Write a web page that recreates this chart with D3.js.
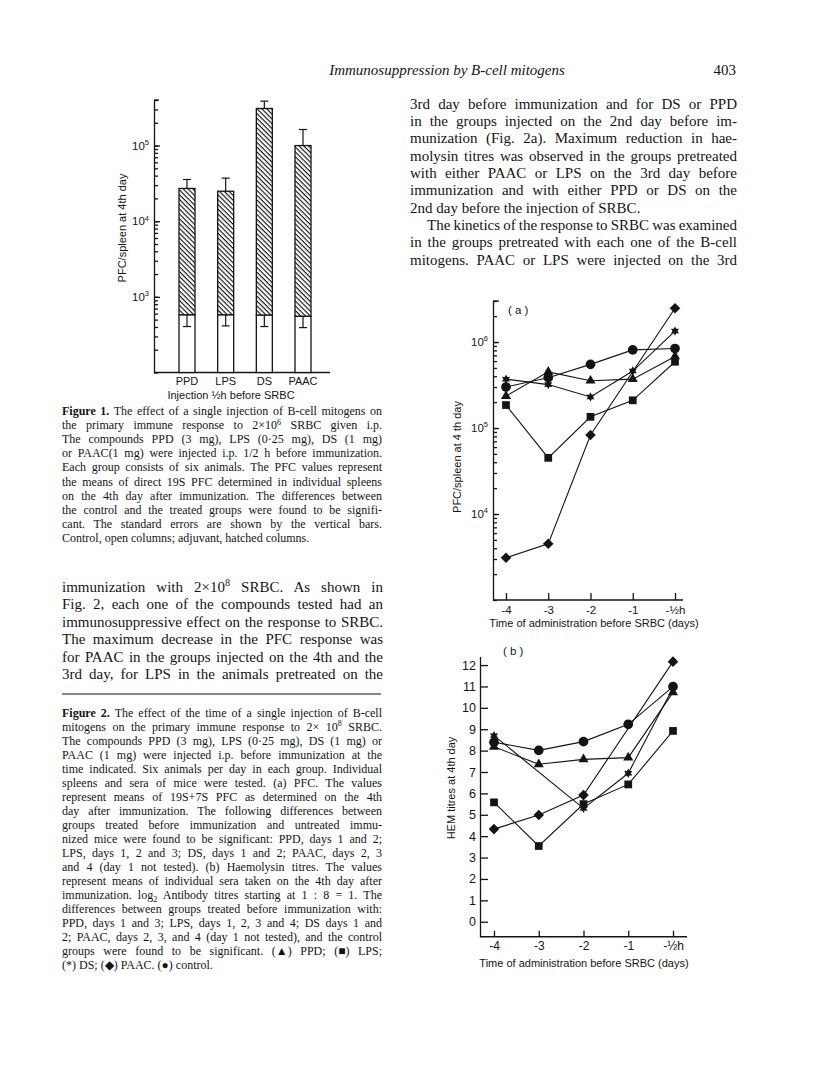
<!DOCTYPE html>
<html><head><meta charset="utf-8">
<script src="https://cdn.jsdelivr.net/npm/d3@7"></script>
<style>
html,body{margin:0;padding:0;background:#fff;}
svg{display:block;}
</style></head><body>
<svg id="page" width="816" height="1085"></svg>
<script>
// ---------------- DATA ----------------
// Figure 1 (log scale, PFC/spleen)
const fig1Categories = ["PPD", "LPS", "DS", "PAAC"];
const fig1ControlMeans = [580, 580, 575, 555];
const fig1ControlLower = [405, 413, 405, 392];
const fig1AdjuvantMeans = [27100, 24900, 309000, 100000];
const fig1AdjuvantUpper = [35600, 37100, 386000, 163000];
const fig1DecadeTicks = [1e3, 1e4, 1e5];

// Figure 2 x categories
const fig2Times = ["-4", "-3", "-2", "-1", "-½h"];

// Figure 2a: PFC/spleen (log)
const fig2aPPD     = [235000, 450000, 355000, 370000, 680000];
const fig2aLPS     = [185000, 45000, 135000, 210000, 590000];
const fig2aDS      = [370000, 320000, 230000, 460000, 1340000];
const fig2aPAAC    = [3100, 4500, 83000, null, 2470000];
const fig2aControl = [300000, 385000, 550000, 810000, 840000];
const fig2aDecadeTicks = [1e4, 1e5, 1e6];

// Figure 2b: HEM titres
const fig2bPPD     = [8.18, 7.36, 7.59, 7.67, 10.72];
const fig2bLPS     = [5.58, 3.54, 5.5, 6.42, 8.92];
const fig2bDS      = [8.7, null, 5.3, 6.94, 10.94];
const fig2bPAAC    = [4.33, 4.99, 5.92, null, 12.16];
const fig2bControl = [8.39, 8.01, 8.42, 9.23, 10.99];
const fig2bTicks = [0,1,2,3,4,5,6,7,8,9,10,11,12];

// Text
const headerTitle = "Immunosuppression by B-cell mitogens";
const pageNumber = "403";
const rightColumnLines = [
  "3rd day before immunization and for DS or PPD",
  "in the groups injected on the 2nd day before im-",
  "munization (Fig. 2a). Maximum reduction in hae-",
  "molysin titres was observed in the groups pretreated",
  "with either PAAC or LPS on the 3rd day before",
  "immunization and with either PPD or DS on the",
  "2nd day before the injection of SRBC.",
  "The kinetics of the response to SRBC was examined",
  "in the groups pretreated with each one of the B-cell",
  "mitogens. PAAC or LPS were injected on the 3rd"
];
const fig1CaptionLines = [
  "**Figure 1.** The effect of a single injection of B-cell mitogens on",
  "the primary immune response to 2×10^{6} SRBC given i.p.",
  "The compounds PPD (3 mg), LPS (0·25 mg), DS (1 mg)",
  "or PAAC(1 mg) were injected i.p. 1/2 h before immunization.",
  "Each group consists of six animals. The PFC values represent",
  "the means of direct 19S PFC determined in individual spleens",
  "on the 4th day after immunization. The differences between",
  "the control and the treated groups were found to be signifi-",
  "cant. The standard errors are shown by the vertical bars.",
  "Control, open columns; adjuvant, hatched columns."
];
const leftBodyLines = [
  "immunization with 2×10^{8} SRBC. As shown in",
  "Fig. 2, each one of the compounds tested had an",
  "immunosuppressive effect on the response to SRBC.",
  "The maximum decrease in the PFC response was",
  "for PAAC in the groups injected on the 4th and the",
  "3rd day, for LPS in the animals pretreated on the"
];
const fig2CaptionLines = [
  "**Figure 2.** The effect of the time of a single injection of B-cell",
  "mitogens on the primary immune response to 2× 10^{8} SRBC.",
  "The compounds PPD (3 mg), LPS (0·25 mg), DS (1 mg) or",
  "PAAC (1 mg) were injected i.p. before immunization at the",
  "time indicated. Six animals per day in each group. Individual",
  "spleens and sera of mice were tested. (a) PFC. The values",
  "represent means of 19S+7S PFC as determined on the 4th",
  "day after immunization. The following differences between",
  "groups treated before immunization and untreated immu-",
  "nized mice were found to be significant: PPD, days 1 and 2;",
  "LPS, days 1, 2 and 3; DS, days 1 and 2; PAAC, days 2, 3",
  "and 4 (day 1 not tested). (b) Haemolysin titres. The values",
  "represent means of individual sera taken on the 4th day after",
  "immunization. log_{2} Antibody titres starting at 1 : 8 = 1. The",
  "differences between groups treated before immunization with:",
  "PPD, days 1 and 3; LPS, days 1, 2, 3 and 4; DS days 1 and",
  "2; PAAC, days 2, 3, and 4 (day 1 not tested), and the control",
  "groups were found to be significant. (▲) PPD; (■) LPS;",
  "(*) DS; (◆) PAAC. (●) control."
];

// ---------------- SETUP ----------------
const INK = "#141414";
const SERIF = "'Liberation Serif','Times New Roman',serif";
const SANS = "'Liberation Sans','DejaVu Sans',Arial,sans-serif";
const svg = d3.select("#page");
svg.append("rect").attr("width", 816).attr("height", 1085).attr("fill", "#fff");

// ---------------- TEXT HELPERS ----------------
function parseSegs(s) {
  const re = /(\*\*[^*]+\*\*|\^\{[^}]*\}|_\{[^}]*\})/g;
  return s.split(re).filter(p => p !== "").map(p => {
    if (p.startsWith("**")) return {t: p.slice(2, -2), k: "b"};
    if (p.startsWith("^{")) return {t: p.slice(2, -1), k: "sup"};
    if (p.startsWith("_{")) return {t: p.slice(2, -1), k: "sub"};
    return {t: p, k: "n"};
  });
}
function drawBlock(lines, o) {
  const g = svg.append("g").attr("font-family", o.family).attr("font-size", o.size).attr("fill", INK);
  lines.forEach((line, i) => {
    const indent = (o.indents && o.indents[i]) || 0;
    const x = o.x0 + indent;
    const t = g.append("text").attr("x", x).attr("y", o.y0 + i * o.lh);
    if (o.italic) t.attr("font-style", "italic");
    if (o.anchor) t.attr("text-anchor", o.anchor);
    let shift = 0;
    const segs = parseSegs(line);
    segs.forEach(seg => {
      const target = seg.k === "sup" ? -o.size * 0.38 : seg.k === "sub" ? o.size * 0.22 : 0;
      const ts = t.append("tspan").text(seg.t);
      if (target !== shift) ts.attr("dy", target - shift);
      shift = target;
      if (seg.k === "b") ts.attr("font-weight", "bold");
      if (seg.k === "sup" || seg.k === "sub") ts.attr("font-size", o.size * 0.68);
    });
    const lastFree = o.justifyLast ? false : i === lines.length - 1;
    const justify = o.justify && !lastFree && !(o.noJustify && o.noJustify.includes(i));
    if (justify) {
      const targetW = o.x1 - x;
      const w = t.node().getComputedTextLength();
      const plain = segs.map(s => s.t).join("");
      const n = (plain.match(/ /g) || []).length;
      if (n > 0) {
        t.style("word-spacing", ((targetW - w) / n) + "px");
        const w2 = t.node().getComputedTextLength();
        if (Math.abs(w2 - targetW) > 2) {
          t.style("word-spacing", null);
          t.attr("textLength", targetW).attr("lengthAdjust", "spacing");
        }
      }
    }
  });
}
function supLabel(g, x, y, base, exp, size, anchor) {
  const t = g.append("text").attr("x", x).attr("y", y).attr("font-family", SANS)
    .attr("font-size", size).attr("fill", INK).attr("text-anchor", anchor || "end");
  t.append("tspan").text(base);
  t.append("tspan").attr("dy", -size * 0.4).attr("font-size", size * 0.65).text(exp);
  return t;
}

// ---------------- PAGE TEXT ----------------
drawBlock([headerTitle], {x0: 447, y0: 75, lh: 0, size: 15, family: SERIF, italic: true, anchor: "middle"});
drawBlock([pageNumber], {x0: 736, y0: 75, lh: 0, size: 15, family: SERIF, anchor: "end"});

drawBlock(rightColumnLines, {x0: 410, x1: 737, y0: 108.5, lh: 17.35, size: 15, family: SERIF,
  justify: true, indents: {7: 17}, noJustify: [6], justifyLast: true});
drawBlock(fig1CaptionLines, {x0: 62, x1: 382, y0: 415, lh: 14.1, size: 12, family: SERIF, justify: true});
drawBlock(leftBodyLines, {x0: 62, x1: 383, y0: 591.5, lh: 17.5, size: 15, family: SERIF, justify: true, justifyLast: true});
drawBlock(fig2CaptionLines, {x0: 62, x1: 382, y0: 716.5, lh: 14.05, size: 12, family: SERIF, justify: true});
svg.append("line").attr("x1", 62).attr("x2", 381).attr("y1", 694).attr("y2", 694)
  .attr("stroke", INK).attr("stroke-width", 1);

// ---------------- FIGURE 1 ----------------
{
  const g = svg.append("g");
  const y = d3.scaleLog().domain([100, 4e5]).range([372.5, 100]);
  const x = d3.scalePoint().domain(fig1Categories).range([187, 303]);
  const barW = 16;
  const axX = 154;

  const defs = svg.append("defs");
  const pat = defs.append("pattern").attr("id", "hatch").attr("patternUnits", "userSpaceOnUse")
    .attr("width", 3.4).attr("height", 3.4).attr("patternTransform", "rotate(45)");
  pat.append("rect").attr("width", 3.4).attr("height", 3.4).attr("fill", "#fff");
  pat.append("rect").attr("width", 3.4).attr("height", 1.15).attr("fill", INK);

  const allTicks = y.ticks();
  const ay = g.append("g").attr("transform", `translate(${axX},0)`)
    .call(d3.axisRight(y).tickValues(allTicks).tickSize(4).tickSizeOuter(0).tickFormat(""));
  ay.selectAll("path,line").attr("stroke", INK).attr("stroke-width", 1.3);
  g.append("g").attr("transform", `translate(${axX},0)`)
    .call(d3.axisRight(y).tickValues(fig1DecadeTicks).tickSize(6).tickSizeOuter(0).tickFormat(""))
    .call(s => s.select(".domain").remove())
    .selectAll("line").attr("stroke", INK).attr("stroke-width", 1.3);
  g.append("line").attr("x1", axX).attr("x2", axX + 5).attr("y1", y(4e5)).attr("y2", y(4e5)).attr("stroke", INK).attr("stroke-width", 1.3);
  fig1DecadeTicks.forEach(v => supLabel(g, axX - 5, y(v) + 4, "10", Math.round(Math.log10(v)), 11.5));
  g.append("line").attr("x1", axX).attr("x2", 330).attr("y1", y(100)).attr("y2", y(100))
    .attr("stroke", INK).attr("stroke-width", 1.5);

  fig1Categories.forEach((c, i) => {
    const cx = x(c);
    g.append("rect").attr("x", cx - barW / 2).attr("y", y(fig1ControlMeans[i]))
      .attr("width", barW).attr("height", y(100) - y(fig1ControlMeans[i]))
      .attr("fill", "#fff").attr("stroke", INK).attr("stroke-width", 1.3);
    g.append("rect").attr("x", cx - barW / 2).attr("y", y(fig1AdjuvantMeans[i]))
      .attr("width", barW).attr("height", y(fig1ControlMeans[i]) - y(fig1AdjuvantMeans[i]))
      .attr("fill", "url(#hatch)").attr("stroke", INK).attr("stroke-width", 1.3);
    const eb = (v0, v1) => {
      g.append("line").attr("x1", cx).attr("x2", cx).attr("y1", y(v0)).attr("y2", y(v1)).attr("stroke", INK).attr("stroke-width", 1.2);
      g.append("line").attr("x1", cx - 4).attr("x2", cx + 4).attr("y1", y(v1)).attr("y2", y(v1)).attr("stroke", INK).attr("stroke-width", 1.2);
    };
    eb(fig1AdjuvantMeans[i], fig1AdjuvantUpper[i]);
    eb(fig1ControlMeans[i], fig1ControlLower[i]);
    g.append("text").attr("x", cx).attr("y", 384.5).attr("text-anchor", "middle")
      .attr("font-family", SANS).attr("font-size", 11).attr("fill", INK).text(c);
  });
  g.append("text").attr("x", 231).attr("y", 399).attr("text-anchor", "middle")
    .attr("font-family", SANS).attr("font-size", 11).attr("fill", INK).text("Injection ½h before SRBC");
  g.append("text").attr("transform", "translate(126,228) rotate(-90)").attr("text-anchor", "middle")
    .attr("font-family", SANS).attr("font-size", 11).attr("fill", INK).text("PFC/spleen at 4th day");
}

// ---------------- SYMBOLS ----------------
const symbolStar6 = {
  draw(ctx, size) {
    const R = Math.sqrt(size) / 1.6, r = R * 0.55;
    for (let i = 0; i < 12; i++) {
      const a = i * Math.PI / 6 - Math.PI / 2, rad = i % 2 ? r : R;
      const px = rad * Math.cos(a), py = rad * Math.sin(a);
      if (i === 0) ctx.moveTo(px, py); else ctx.lineTo(px, py);
    }
    ctx.closePath();
  }
};
const symbolDiamond45 = {
  draw(ctx, size) {
    const h = Math.sqrt(size) / Math.SQRT2;
    ctx.moveTo(0, -h); ctx.lineTo(h, 0); ctx.lineTo(0, h); ctx.lineTo(-h, 0); ctx.closePath();
  }
};
const seriesStyles = [
  {name: "PPD", type: d3.symbolTriangle, size: 44},
  {name: "LPS", type: d3.symbolSquare, size: 60},
  {name: "DS", type: symbolStar6, size: 56},
  {name: "PAAC", type: symbolDiamond45, size: 56},
  {name: "control", type: d3.symbolCircle, size: 74}
];

function drawSeries(g, x, y, values, style) {
  const pts = values.map((v, i) => ({t: fig2Times[i], v})).filter(d => d.v != null);
  g.append("path").datum(pts)
    .attr("d", d3.line().x(d => x(d.t)).y(d => y(d.v)))
    .attr("fill", "none").attr("stroke", INK).attr("stroke-width", 1.1);
  g.selectAll(null).data(pts).enter().append("path")
    .attr("transform", d => `translate(${x(d.t)},${y(d.v)})`)
    .attr("d", d3.symbol().type(style.type).size(style.size))
    .attr("fill", INK);
}

// ---------------- FIGURE 2a ----------------
{
  const g = svg.append("g");
  const y = d3.scaleLog().domain([1e3, 3e6]).range([600, 301]);
  const x = d3.scalePoint().domain(fig2Times).range([506, 675]);
  const axX = 493;
  const ay = g.append("g").attr("transform", `translate(${axX},0)`)
    .call(d3.axisRight(y).tickValues(y.ticks()).tickSize(4).tickSizeOuter(0).tickFormat(""));
  ay.selectAll("path,line").attr("stroke", INK).attr("stroke-width", 1.3);
  g.append("g").attr("transform", `translate(${axX},0)`)
    .call(d3.axisRight(y).tickValues(fig2aDecadeTicks).tickSize(6).tickFormat(""))
    .call(s => s.select(".domain").remove())
    .selectAll("line").attr("stroke", INK).attr("stroke-width", 1.3);
  g.append("line").attr("x1", axX).attr("x2", axX + 6).attr("y1", y(3e6)).attr("y2", y(3e6)).attr("stroke", INK).attr("stroke-width", 1.3);
  fig2aDecadeTicks.forEach(v => supLabel(g, axX - 5, y(v) + 4, "10", Math.round(Math.log10(v)), 11.5));
  g.append("line").attr("x1", axX).attr("x2", 683).attr("y1", 600).attr("y2", 600).attr("stroke", INK).attr("stroke-width", 1.4);
  const ax = g.append("g").attr("transform", "translate(0,600)")
    .call(d3.axisBottom(x).tickSizeInner(-7).tickSizeOuter(0).tickPadding(6));
  ax.select(".domain").remove();
  ax.selectAll("line").attr("stroke", INK).attr("stroke-width", 1.3);
  ax.selectAll("text").attr("font-family", SANS).attr("font-size", 11.5).attr("fill", INK);
  g.append("text").attr("x", 594).attr("y", 627).attr("text-anchor", "middle")
    .attr("font-family", SANS).attr("font-size", 11).attr("fill", INK)
    .text("Time of administration before SRBC (days)");
  g.append("text").attr("transform", "translate(461,457) rotate(-90)").attr("text-anchor", "middle")
    .attr("font-family", SANS).attr("font-size", 11).attr("fill", INK).text("PFC/spleen at 4 th day");
  g.append("text").attr("x", 508).attr("y", 314).attr("font-family", SANS).attr("font-size", 11.5)
    .attr("fill", INK).text("( a )");
  const seriesA = [fig2aPPD, fig2aLPS, fig2aDS, fig2aPAAC, fig2aControl];
  seriesA.forEach((vals, k) => drawSeries(g, x, y, vals, seriesStyles[k]));
}

// ---------------- FIGURE 2b ----------------
{
  const g = svg.append("g");
  const y = d3.scaleLinear().domain([-0.7, 12.4]).range([936.7, 656.5]);
  const x = d3.scalePoint().domain(fig2Times).range([494, 673]);
  const axX = 480;
  const ay = g.append("g").attr("transform", `translate(${axX},0)`)
    .call(d3.axisRight(y).tickValues(fig2bTicks).tickSize(8).tickSizeOuter(0).tickFormat(""));
  ay.selectAll("path,line").attr("stroke", INK).attr("stroke-width", 1.3);
  fig2bTicks.forEach(v => g.append("text").attr("x", axX - 4).attr("y", y(v) + 4.5)
    .attr("text-anchor", "end").attr("font-family", SANS).attr("font-size", 12.5).attr("fill", INK).text(v));
  g.append("line").attr("x1", axX).attr("x2", 687).attr("y1", 936.7).attr("y2", 936.7).attr("stroke", INK).attr("stroke-width", 1.4);
  const ax = g.append("g").attr("transform", "translate(0,936.7)")
    .call(d3.axisBottom(x).tickSizeInner(-6).tickSizeOuter(0).tickPadding(5));
  ax.select(".domain").remove();
  ax.selectAll("line").attr("stroke", INK).attr("stroke-width", 1.3);
  ax.selectAll("text").attr("font-family", SANS).attr("font-size", 12).attr("fill", INK);
  g.append("text").attr("x", 584).attr("y", 967).attr("text-anchor", "middle")
    .attr("font-family", SANS).attr("font-size", 11).attr("fill", INK)
    .text("Time of administration before SRBC (days)");
  g.append("text").attr("transform", "translate(455,788) rotate(-90)").attr("text-anchor", "middle")
    .attr("font-family", SANS).attr("font-size", 11).attr("fill", INK).text("HEM titres at 4th day");
  g.append("text").attr("x", 503).attr("y", 655).attr("font-family", SANS).attr("font-size", 11.5)
    .attr("fill", INK).text("( b )");
  const seriesB = [fig2bPPD, fig2bLPS, fig2bDS, fig2bPAAC, fig2bControl];
  seriesB.forEach((vals, k) => drawSeries(g, x, y, vals, seriesStyles[k]));
}
</script>
</body></html>
